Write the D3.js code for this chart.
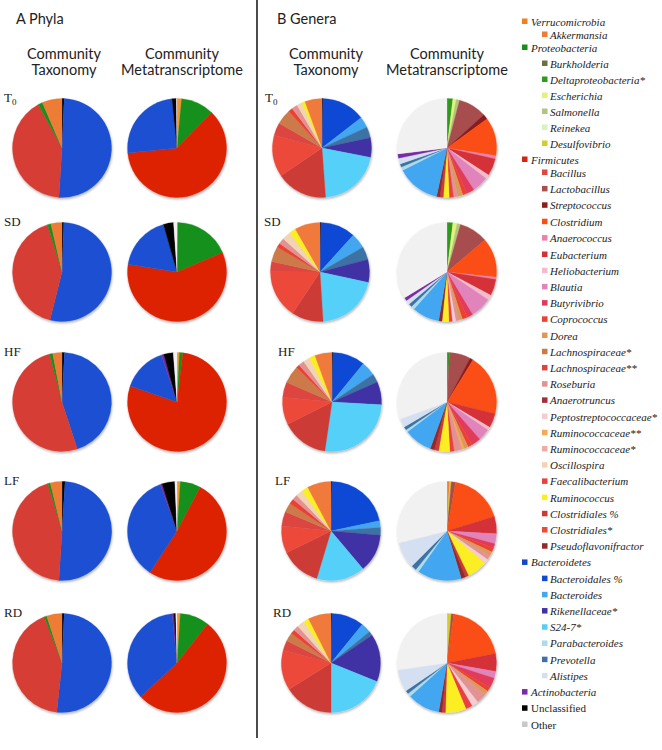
<!DOCTYPE html>
<html>
<head>
<meta charset="utf-8">
<script src="https://cdn.jsdelivr.net/npm/d3@7"></script>
<style>
  body { margin: 0; background: #fff; }
</style>
</head>
<body>
<svg id="chart" width="662" height="750"></svg>
<script>
// time points (rows)
const rowNames = ["T0", "SD", "HF", "LF", "RD"];

// Phyla, community taxonomy (clockwise from 12 o'clock), % of reads
const phylaTaxKeys = ["Unclassified", "Bacteroidetes", "Firmicutes", "Proteobacteria", "Verrucomicrobia"];
const phylaTaxValues = [
  [0.7, 50.3, 41.1, 1.4, 6.5],
  [0.6, 53.3, 41.4, 1.1, 3.6],
  [0.8, 44.2, 51.0, 1.0, 3.0],
  [1.0, 50.0, 44.4, 0.8, 3.8],
  [0.7, 51.0, 42.5, 0.8, 5.0]
];

// Phyla, community metatranscriptome
const phylaMetaKeys = ["Verrucomicrobia", "Proteobacteria", "Firmicutes", "Bacteroidetes", "Actinobacteria", "Unclassified", "Other"];
const phylaMetaValues = [
  [1.5, 10.8, 61.1, 25.0, 0.0, 1.4, 0.2],
  [0.3, 18.3, 58.9, 18.1, 0.0, 3.3, 1.1],
  [0.8, 1.1, 78.3, 14.7, 0.8, 3.1, 1.2],
  [1.1, 6.7, 51.4, 35.3, 0.6, 4.2, 0.7],
  [1.1, 9.5, 52.5, 35.3, 0.6, 0.6, 0.4]
];

// Genera, community taxonomy
const generaTaxKeys = ["Unclassified", "Bacteroidales %", "Bacteroides", "Prevotella", "Rikenellaceae*", "S24-7*",
  "Clostridiales %", "Clostridiales*", "Lachnospiraceae**", "Lachnospiraceae*", "Coprococcus", "Roseburia",
  "Oscillospira", "Ruminococcus", "Akkermansia"];
const generaTaxValues = [
  [0.3, 14.2, 3.6, 3.6, 6.4, 20.8, 16.7, 13.6, 4.2, 5.0, 1.4, 1.9, 1.7, 1.1, 5.6],
  [0.3, 11.4, 5.0, 4.2, 7.5, 20.6, 10.3, 15.8, 3.3, 5.0, 1.4, 1.9, 2.8, 2.2, 8.3],
  [0.3, 10.6, 4.7, 2.8, 7.5, 26.4, 15.3, 8.9, 5.0, 5.8, 1.1, 1.9, 2.2, 1.9, 5.6],
  [0.3, 21.4, 2.2, 2.5, 12.5, 15.8, 13.1, 8.9, 4.7, 3.1, 1.7, 1.7, 2.2, 2.2, 7.8],
  [0.3, 10.6, 3.3, 1.4, 15.6, 18.9, 16.1, 13.1, 3.3, 2.8, 1.4, 1.7, 2.5, 1.7, 7.5]
];

// Genera, community metatranscriptome
const generaMetaKeys = ["Akkermansia", "Deltaproteobacteria*", "Escherichia", "Salmonella", "Desulfovibrio",
  "Lactobacillus", "Streptococcus", "Clostridium", "Anaerococcus", "Eubacterium", "Heliobacterium", "Blautia",
  "Butyrivibrio", "Coprococcus", "Dorea", "Ruminococcaceae**", "Roseburia", "Peptostreptococcaceae*",
  "Faecalibacterium", "Ruminococcus", "Clostridiales %", "Pseudoflavonifractor", "Bacteroides",
  "Parabacteroides", "Prevotella", "Alistipes", "Actinobacteria", "Other"];
const generaMetaValues = [
  [0.0, 1.9, 1.1, 1.1, 0.0, 9.2, 1.7, 12.5, 1.1, 5.6, 1.4, 5.3, 2.5, 1.4, 1.7, 0.0, 1.4, 0.0, 1.4, 1.9, 1.1, 1.1, 14.2, 1.1, 1.1, 1.9, 1.4, 26.9],
  [0.0, 1.9, 1.4, 1.1, 0.0, 9.4, 0.0, 12.8, 0.8, 5.3, 1.7, 6.9, 1.9, 1.7, 1.1, 0.0, 1.1, 1.1, 1.1, 2.2, 0.0, 1.1, 8.9, 1.1, 1.1, 1.4, 1.1, 33.6],
  [0.0, 0.8, 0.0, 0.0, 0.0, 6.9, 1.1, 20.0, 0.0, 4.7, 1.1, 3.9, 3.1, 1.4, 1.4, 0.8, 2.5, 0.0, 1.4, 3.6, 1.4, 1.4, 9.2, 0.8, 1.1, 2.8, 0.0, 30.6],
  [0.8, 0.0, 0.0, 0.0, 0.6, 1.4, 0.0, 17.5, 0.0, 5.6, 0.0, 3.3, 1.4, 1.4, 1.4, 0.0, 1.4, 1.4, 0.0, 6.7, 1.1, 1.4, 14.4, 1.1, 1.7, 8.6, 0.0, 28.9],
  [0.0, 0.0, 0.0, 0.0, 1.4, 0.8, 0.0, 19.7, 0.0, 5.8, 0.0, 2.2, 3.3, 1.4, 1.4, 0.0, 3.3, 2.2, 2.2, 6.7, 1.1, 1.1, 10.6, 1.1, 1.1, 7.2, 0.0, 27.2]
];

// legend, top to bottom
const phylumNames = ["Verrucomicrobia", "Proteobacteria", "Firmicutes", "Bacteroidetes", "Actinobacteria", "Unclassified", "Other"];
const legendNames = ["Verrucomicrobia", "Akkermansia", "Proteobacteria", "Burkholderia", "Deltaproteobacteria*",
  "Escherichia", "Salmonella", "Reinekea", "Desulfovibrio", "Firmicutes", "Bacillus", "Lactobacillus",
  "Streptococcus", "Clostridium", "Anaerococcus", "Eubacterium", "Heliobacterium", "Blautia", "Butyrivibrio",
  "Coprococcus", "Dorea", "Lachnospiraceae*", "Lachnospiraceae**", "Roseburia", "Anaerotruncus",
  "Peptostreptococcaceae*", "Ruminococcaceae**", "Ruminococcaceae*", "Oscillospira", "Faecalibacterium",
  "Ruminococcus", "Clostridiales %", "Clostridiales*", "Pseudoflavonifractor", "Bacteroidetes",
  "Bacteroidales %", "Bacteroides", "Rikenellaceae*", "S24-7*", "Parabacteroides", "Prevotella", "Alistipes",
  "Actinobacteria", "Unclassified", "Other"];
const legendColors = ["#f0801e", "#f07a3a", "#17901a", "#6b6f42", "#2e9a1e",
  "#e4f27a", "#b2c47e", "#d8f2c0", "#d4cc2e", "#d42414", "#da4a40", "#a84e4e",
  "#8c1e1e", "#fb4e12", "#ec80aa", "#d43038", "#f4bccb", "#e284bc", "#e23a5a",
  "#ec4032", "#dc9a58", "#cc7a48", "#dc4440", "#e29292", "#a42c3c",
  "#f4ccd4", "#f8a85a", "#f0aca4", "#f2d4b4", "#ea4040",
  "#fbee22", "#cc3a36", "#ec4a3a", "#922a2a", "#1448c4",
  "#0f4ad4", "#42a6f0", "#4032a4", "#54d0f8", "#acdcec", "#3e72a4", "#d4e0f2",
  "#7a2aa4", "#000000", "#c8c8c8"];

const color = d3.scaleOrdinal().domain(legendNames).range(legendColors);
const pieColor = k => k === "Other" ? "#f1f1f1" : color(k);
const phylaTaxColor = k => ({Firmicutes: "#d63c34", Bacteroidetes: "#1a50d2", Verrucomicrobia: "#ef7b35"})[k] || pieColor(k);
const phylaMetaColor = k => ({Firmicutes: "#dc2200", Bacteroidetes: "#1a50d2", Verrucomicrobia: "#f5952e"})[k] || pieColor(k);

// layout
const R = 49.5;
const rowY = [148, 272, 402, 531, 663];
const phylaX = [62, 177];
const generaTaxX = [322, 320, 332, 331, 331];
const generaMetaX = 447;
const generaLabelX = [265, 264, 278, 275, 273];
const sans = "Lato, 'Open Sans', sans-serif";
const serif = "'Liberation Serif', 'Times New Roman', serif";

const svg = d3.select("#chart");

svg.append("defs").append("filter").attr("id", "shadow")
    .attr("x", "-20%").attr("y", "-20%").attr("width", "140%").attr("height", "140%")
  .append("feDropShadow")
    .attr("dx", 0.6).attr("dy", 1.6).attr("stdDeviation", 1.3)
    .attr("flood-color", "#000").attr("flood-opacity", 0.3);

const arc = d3.arc().innerRadius(0).outerRadius(R);
const pie = d3.pie().sort(null).value(d => d.value);

function drawPie(cx, cy, keys, values, fill) {
    const data = keys.map((k, i) => ({key: k, value: values[i]})).filter(d => d.value > 0);
    const g = svg.append("g")
        .attr("transform", `translate(${cx},${cy})`)
        .attr("filter", "url(#shadow)");
    g.selectAll("path")
        .data(pie(data))
        .join("path")
        .attr("d", arc)
        .attr("fill", d => fill(d.data.key))
        .attr("stroke", d => fill(d.data.key))
        .attr("stroke-width", 0.3);
}

function headText(x, y, txt, anchor) {
    return svg.append("text")
        .attr("x", x).attr("y", y)
        .attr("text-anchor", anchor || "start")
        .style("font-family", sans).style("font-size", "14.5px").style("fill", "#222")
        .text(txt);
}

// panel titles
headText(16, 24, "A  Phyla");
headText(277, 24, "B Genera");

// column headers
const headers = [
  {x: 64, lines: ["Community", "Taxonomy"]},
  {x: 182, lines: ["Community", "Metatranscriptome"]},
  {x: 326, lines: ["Community", "Taxonomy"]},
  {x: 447, lines: ["Community", "Metatranscriptome"]}
];
headers.forEach(h => {
    h.lines.forEach((line, i) => headText(h.x, 59 + i * 16, line, "middle"));
});

// divider
svg.append("line")
    .attr("x1", 257).attr("x2", 257).attr("y1", 0).attr("y2", 738)
    .attr("stroke", "#111").attr("stroke-width", 1.5);

// row labels
function rowLabel(x, y, name) {
    const t = svg.append("text").attr("x", x).attr("y", y)
        .style("font-family", serif).style("font-size", "13px").style("fill", "#222");
    if (name === "T0") {
        t.append("tspan").text("T");
        t.append("tspan").style("font-size", "9px").attr("dy", 3).text("0");
    } else {
        t.text(name);
    }
}

rowNames.forEach((name, i) => {
    const cy = rowY[i];
    rowLabel(4, cy - 46, name);
    rowLabel(generaLabelX[i], cy - 46, name);

    drawPie(phylaX[0], cy, phylaTaxKeys, phylaTaxValues[i], phylaTaxColor);
    drawPie(phylaX[1], cy, phylaMetaKeys, phylaMetaValues[i], phylaMetaColor);
    drawPie(generaTaxX[i], cy, generaTaxKeys, generaTaxValues[i], pieColor);
    drawPie(generaMetaX, cy, generaMetaKeys, generaMetaValues[i], pieColor);
});

// legend
const legendY = d3.scaleLinear()
    .domain([0, 2, 9, 10, 15, 44])
    .range([22, 48, 160, 173, 255, 725]);

const legend = svg.append("g");
legendNames.forEach((name, i) => {
    const top = phylumNames.includes(name);
    const y = legendY(i);
    legend.append("rect")
        .attr("x", top ? 522 : 542).attr("y", y - 3.5)
        .attr("width", 5.5).attr("height", 5.5)
        .attr("fill", color(name));
    legend.append("text")
        .attr("x", top ? 531 : 550).attr("y", y + 3.5)
        .style("font-family", serif)
        .style("font-size", "11px")
        .style("font-style", (name === "Unclassified" || name === "Other") ? "normal" : "italic")
        .style("fill", "#222")
        .text(name);
});
</script>
</body>
</html>
